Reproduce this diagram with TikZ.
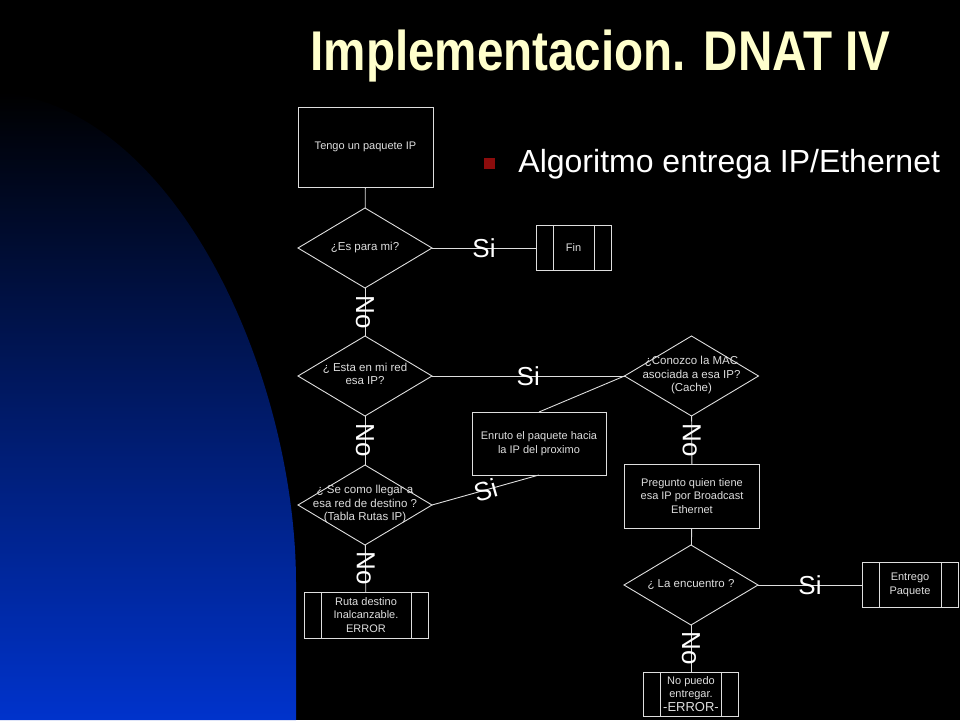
\documentclass[tikz,border=0pt]{standalone}
\usepackage{fontspec}
\setmainfont{Liberation Sans}
\usetikzlibrary{shapes.geometric}
\definecolor{crema}{RGB}{255,255,204}
\definecolor{vino}{RGB}{140,12,12}
\definecolor{azul}{RGB}{0,51,204}
\definecolor{linea}{RGB}{222,222,222}
\newcommand{\enrombo}[1]{\makebox[0pt]{\smash{\raisebox{-2.5pt}{\begin{tabular}{@{}c@{}}#1\end{tabular}}}}}

\begin{document}
\begin{tikzpicture}[x=1pt,y=-1pt,line width=0.9pt,
	caja/.style={draw=linea,rectangle,inner sep=2pt,outer sep=0pt,align=center,text=linea,font=\fontsize{11}{13.5}\selectfont},
	rombo/.style={draw=linea,diamond,inner sep=0pt,outer sep=0pt,minimum width=134pt,minimum height=80pt,text=linea,font=\fontsize{11.5}{13.5}\selectfont},
	proceso/.style={caja,path picture={
		\draw[linea] ([xshift=17pt]path picture bounding box.north west) -- ([xshift=17pt]path picture bounding box.south west);
		\draw[linea] ([xshift=-17pt]path picture bounding box.north east) -- ([xshift=-17pt]path picture bounding box.south east);}},
	etiq/.style={text=white,inner sep=0pt,font=\fontsize{26}{26}\selectfont},
	no/.style={etiq,rotate=-90}]
	% fondo
	\fill[black] (0,0) rectangle (960,720);
	\shade[top color=black,bottom color=azul] (0,92) .. controls (180,110) and (296,380) .. (296,583) -- (296,720) -- (0,720) -- cycle;
	\useasboundingbox (0,0) rectangle (960,720);
	% titulo
	\node [anchor=base west,inner sep=0pt,text=crema,font=\fontsize{56}{56}\selectfont\bfseries] (titulo) at (310,70) {\scalebox{0.85}[1]{Implementacion. DNAT IV}};
	\node [fill=vino,inner sep=0pt,minimum size=11pt] (vineta) at (489,163.5) {};
	\node [anchor=base west,inner sep=0pt,text=white,font=\fontsize{32}{32}\selectfont] (algoritmo) at (518,172) {Algoritmo entrega IP/Ethernet};
	% diagrama
	\node [caja,minimum width=135pt,minimum height=80pt] (tengo) at (365.5,147) {Tengo un paquete IP};
	\node [rombo] (esmio) at (365,248) {\enrombo{¿Es para mi?}};
	\node [proceso,minimum width=75pt,minimum height=45pt] (fin) at (573.5,248) {Fin};
	\node [rombo] (mired) at (365,376) {\enrombo{¿ Esta en mi red\\esa IP?}};
	\node [rombo] (mac) at (691.5,376) {\enrombo{¿Conozco la MAC\\asociada a esa IP?\\(Cache)}};
	\node [caja,minimum width=134pt,minimum height=63pt] (enruto) at (539,443.5) {Enruto el paquete hacia\\la IP del proximo};
	\node [rombo] (tabla) at (365,505) {\enrombo{¿ Se como llegar a\\esa red de destino ?\\(Tabla Rutas IP)}};
	\node [caja,minimum width=135pt,minimum height=64pt] (pregunto) at (692,496) {Pregunto quien tiene\\esa IP por Broadcast\\Ethernet};
	\node [proceso,minimum width=124pt,minimum height=46pt] (inalc) at (366,615) {Ruta destino\\Inalcanzable.\\ERROR};
	\node [rombo] (encuentro) at (691,585) {\enrombo{¿ La encuentro ?}};
	\node [proceso,minimum width=96pt,minimum height=45pt] (entrego) at (910,585) {Entrego\\Paquete};
	\node [proceso,minimum width=95pt,minimum height=44pt] (nopuedo) at (691,694) {No puedo\\entregar.\\{\fontsize{13}{14}\selectfont -ERROR-}};
	\path [draw=linea]
	(tengo) edge (esmio)
	(esmio) edge node[etiq] {Si} (fin)
	(esmio) edge node[no] {No} (mired)
	(mired) edge node[etiq] {Si} (mac)
	(mired) edge node[no] {No} (tabla)
	(mac.west) edge (enruto.north)
	(tabla.east) edge node[etiq,sloped] {Si} (enruto.south)
	(tabla) edge node[no] {No} (inalc)
	(mac) edge node[no] {No} (pregunto)
	(pregunto) edge (encuentro)
	(encuentro) edge node[etiq] {Si} (entrego)
	(encuentro) edge node[no] {No} (nopuedo);
\end{tikzpicture}
\end{document}
